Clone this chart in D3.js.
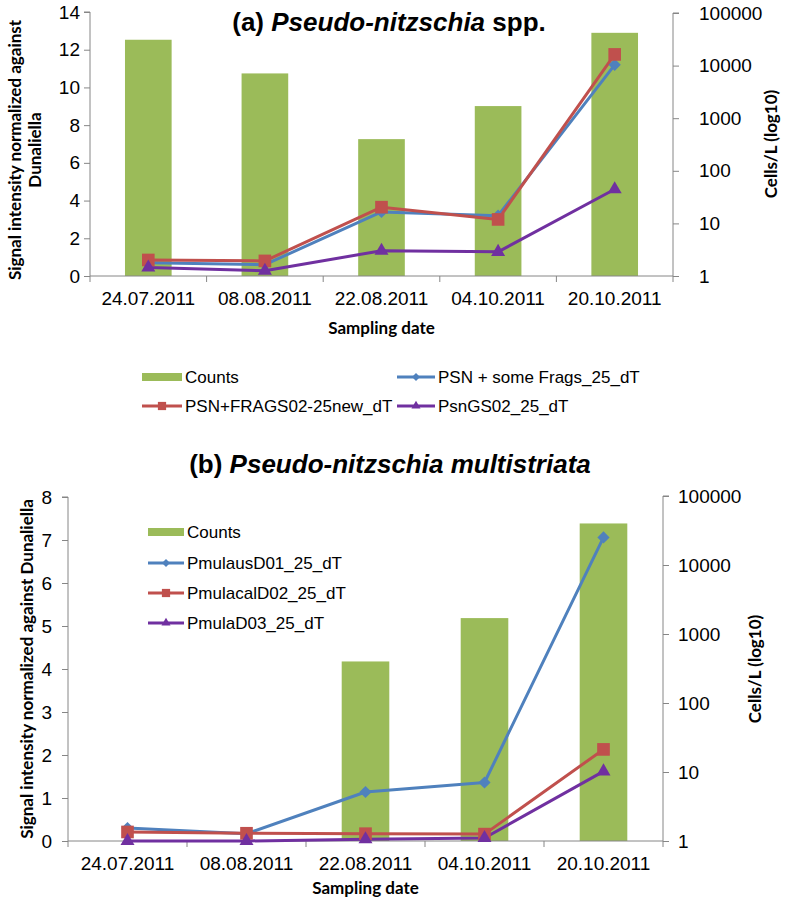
<!DOCTYPE html>
<html>
<head>
<meta charset="utf-8">
<script src="https://cdn.jsdelivr.net/npm/d3@7"></script>
<style>
  body { margin: 0; background: #fff; }
  svg text { font-family: "Liberation Sans", Arial, sans-serif; fill: #000; }
  .axTitle { font-family: Lato, "Open Sans", sans-serif !important; font-weight: bold; font-size: 17px; }
</style>
</head>
<body>
<script>
// sampling dates (x categories)
const dates = ["24.07.2011", "08.08.2011", "22.08.2011", "04.10.2011", "20.10.2011"];

// panel (a) Pseudo-nitzschia spp.
const countsA = [31000, 7100, 400, 1700, 42000];
const psnSomeFrags = [0.7, 0.6, 3.4, 3.2, 11.2];
const psnFrags02 = [0.85, 0.8, 3.65, 3.0, 11.75];
const psnGS02 = [0.45, 0.28, 1.34, 1.28, 4.6];
const leftTicksA = [0, 2, 4, 6, 8, 10, 12, 14];

// panel (b) Pseudo-nitzschia multistriata
const countsB = [null, null, 400, 1700, 40000];
const pmulausD01 = [0.3, 0.17, 1.14, 1.36, 7.06];
const pmulacalD02 = [0.21, 0.18, 0.17, 0.16, 2.13];
const pmulaD03 = [0.0, 0.0, 0.04, 0.07, 1.62];
const leftTicksB = [0, 1, 2, 3, 4, 5, 6, 7, 8];

const logTicks = [1, 10, 100, 1000, 10000, 100000];

const green = "#9BBB59", blue = "#4F81BD", red = "#C0504D", purple = "#7030A0", axisCol = "#868686";

const svg = d3.select("body").append("svg")
  .attr("width", 786).attr("height", 904);

const markerPath = {
  diamond: d3.symbol().type(d3.symbolDiamond2).size(95)(),
  square: d3.symbol().type(d3.symbolSquare).size(160)(),
  triangle: d3.symbol().type(d3.symbolTriangle2).size(140)()
};

function drawPanel(p) {
  const g = svg.append("g");

  const x = d3.scaleBand().domain(dates)
    .range([p.left, p.right]).paddingInner(0.6).paddingOuter(0.3);
  const y = d3.scaleLinear().domain([0, p.yMax]).range([p.bottom, p.top]);
  const yLog = d3.scaleLog().domain([1, 100000]).range([p.bottom, p.logTop]);
  const cx = d => x(d) + x.bandwidth() / 2;
  const step = x.step();

  // bars (counts, right log axis)
  g.selectAll("rect.bar")
    .data(dates.map((d, i) => ({ d, v: p.counts[i] })).filter(e => e.v != null))
    .enter().append("rect")
    .attr("x", e => x(e.d))
    .attr("width", x.bandwidth())
    .attr("y", e => yLog(e.v))
    .attr("height", e => p.bottom - yLog(e.v))
    .attr("fill", green);

  // left axis
  const yAxis = d3.axisLeft(y).tickValues(p.leftTicks).tickSize(6).tickPadding(p.leftPad);
  const ya = g.append("g").attr("transform", `translate(${p.left},0)`).call(yAxis);
  ya.select(".domain").attr("stroke", axisCol).attr("d", `M-6,${p.top}H0V${p.bottom}`);
  ya.selectAll(".tick line").attr("stroke", axisCol);
  ya.selectAll(".tick text").style("font-size", "19px");

  // right axis (log)
  const yrAxis = d3.axisRight(yLog).tickValues(logTicks).tickFormat(d3.format("d")).tickSize(6).tickPadding(p.rightPad);
  const yr = g.append("g").attr("transform", `translate(${p.right},0)`).call(yrAxis);
  yr.select(".domain").attr("stroke", axisCol).attr("d", `M6,${p.logTop}H0V${p.bottom}`);
  yr.selectAll(".tick line").attr("stroke", axisCol);
  yr.selectAll(".tick text").style("font-size", "19px");

  // x axis
  const xAxis = d3.axisBottom(x).tickSize(0).tickPadding(p.xPad);
  const xa = g.append("g").attr("transform", `translate(0,${p.bottom})`).call(xAxis);
  xa.select(".domain").attr("stroke", axisCol).attr("d", `M${p.left},0H${p.right}`);
  xa.selectAll(".tick text").style("font-size", "19px");
  xa.selectAll("line.sep")
    .data(d3.range(dates.length + 1))
    .enter().append("line")
    .attr("class", "sep")
    .attr("x1", i => p.left + i * step).attr("x2", i => p.left + i * step)
    .attr("y1", 0).attr("y2", 6)
    .attr("stroke", axisCol);

  // lines
  const line = d3.line().x((v, i) => cx(dates[i])).y(v => y(v));
  p.series.forEach(s => {
    g.append("path").datum(s.values)
      .attr("d", line).attr("fill", "none")
      .attr("stroke", s.color).attr("stroke-width", 3).attr("stroke-linejoin", "round");
  });
  p.series.forEach(s => {
    g.selectAll(null).data(s.values).enter().append("path")
      .attr("d", markerPath[s.marker])
      .attr("transform", (v, i) => `translate(${cx(dates[i])},${y(v)})`)
      .attr("fill", s.color);
  });

  // title
  const t = g.append("text").attr("x", p.titleX).attr("y", p.titleY)
    .attr("text-anchor", "middle").style("font-size", "26px").style("font-weight", "bold");
  t.append("tspan").text(p.titlePre);
  t.append("tspan").style("font-style", "italic").text(p.titleIt);
  if (p.titlePost) t.append("tspan").text(p.titlePost);

  // axis titles
  g.append("text").attr("class", "axTitle")
    .attr("x", (p.left + p.right) / 2).attr("y", p.xTitleY)
    .attr("text-anchor", "middle").text("Sampling date");

  const lt = g.append("text").attr("class", "axTitle")
    .attr("transform", `translate(${p.yTitleX},${p.yTitleY}) rotate(-90)`)
    .attr("text-anchor", "middle");
  p.yTitleLines.forEach((l, i) => {
    lt.append("tspan").attr("x", 0).attr("dy", i === 0 ? 0 : 20).text(l);
  });

  g.append("text").attr("class", "axTitle")
    .attr("transform", `translate(${p.rTitleX},${p.rTitleY}) rotate(-90)`)
    .attr("text-anchor", "middle").text("Cells/L (log10)");

  // legend
  const lg = g.append("g");
  p.legend.forEach(e => {
    const it = lg.append("g").attr("transform", `translate(${e.x},${e.y})`);
    if (e.kind === "bar") {
      it.append("rect").attr("x", 0).attr("y", -4).attr("width", e.w).attr("height", 8).attr("fill", green);
    } else {
      it.append("line").attr("x1", 0).attr("x2", e.w).attr("y1", 0).attr("y2", 0)
        .attr("stroke", e.color).attr("stroke-width", 3);
      it.append("path").attr("d", markerPath[e.marker])
        .attr("transform", `translate(${e.w / 2},0) scale(0.65)`).attr("fill", e.color);
    }
    it.append("text").attr("x", e.w + 3).attr("y", 6).style("font-size", "17px").text(e.label);
  });
}

drawPanel({
  left: 90, right: 673, top: 12, bottom: 276, logTop: 13, yMax: 14,
  leftTicks: leftTicksA, leftPad: 4, rightPad: 20, xPad: 16,
  counts: countsA,
  series: [
    { values: psnSomeFrags, color: blue, marker: "diamond" },
    { values: psnFrags02, color: red, marker: "square" },
    { values: psnGS02, color: purple, marker: "triangle" }
  ],
  titleX: 389, titleY: 31, titlePre: "(a) ", titleIt: "Pseudo-nitzschia", titlePost: " spp.",
  xTitleY: 334,
  yTitleX: 21, yTitleY: 150, yTitleLines: ["Signal intensity normalized against", "Dunaliella"],
  rTitleX: 777, rTitleY: 144,
  legend: [
    { kind: "bar", x: 142, y: 377, w: 40, label: "Counts" },
    { kind: "line", x: 397, y: 377, w: 38, color: blue, marker: "diamond", label: "PSN + some Frags_25_dT" },
    { kind: "line", x: 142, y: 406, w: 40, color: red, marker: "square", label: "PSN+FRAGS02-25new_dT" },
    { kind: "line", x: 397, y: 406, w: 38, color: purple, marker: "triangle", label: "PsnGS02_25_dT" }
  ]
});

drawPanel({
  left: 68, right: 663, top: 497, bottom: 841, logTop: 496, yMax: 8,
  leftTicks: leftTicksB, leftPad: 10, rightPad: 9, xPad: 16,
  counts: countsB,
  series: [
    { values: pmulausD01, color: blue, marker: "diamond" },
    { values: pmulacalD02, color: red, marker: "square" },
    { values: pmulaD03, color: purple, marker: "triangle" }
  ],
  titleX: 390, titleY: 473, titlePre: "(b) ", titleIt: "Pseudo-nitzschia multistriata", titlePost: "",
  xTitleY: 894,
  yTitleX: 33, yTitleY: 669, yTitleLines: ["Signal intensity normalized against Dunaliella"],
  rTitleX: 761, rTitleY: 669,
  legend: [
    { kind: "bar", x: 148, y: 532, w: 36, label: "Counts" },
    { kind: "line", x: 148, y: 563, w: 36, color: blue, marker: "diamond", label: "PmulausD01_25_dT" },
    { kind: "line", x: 148, y: 593, w: 36, color: red, marker: "square", label: "PmulacalD02_25_dT" },
    { kind: "line", x: 148, y: 623, w: 36, color: purple, marker: "triangle", label: "PmulaD03_25_dT" }
  ]
});
</script>
</body>
</html>
